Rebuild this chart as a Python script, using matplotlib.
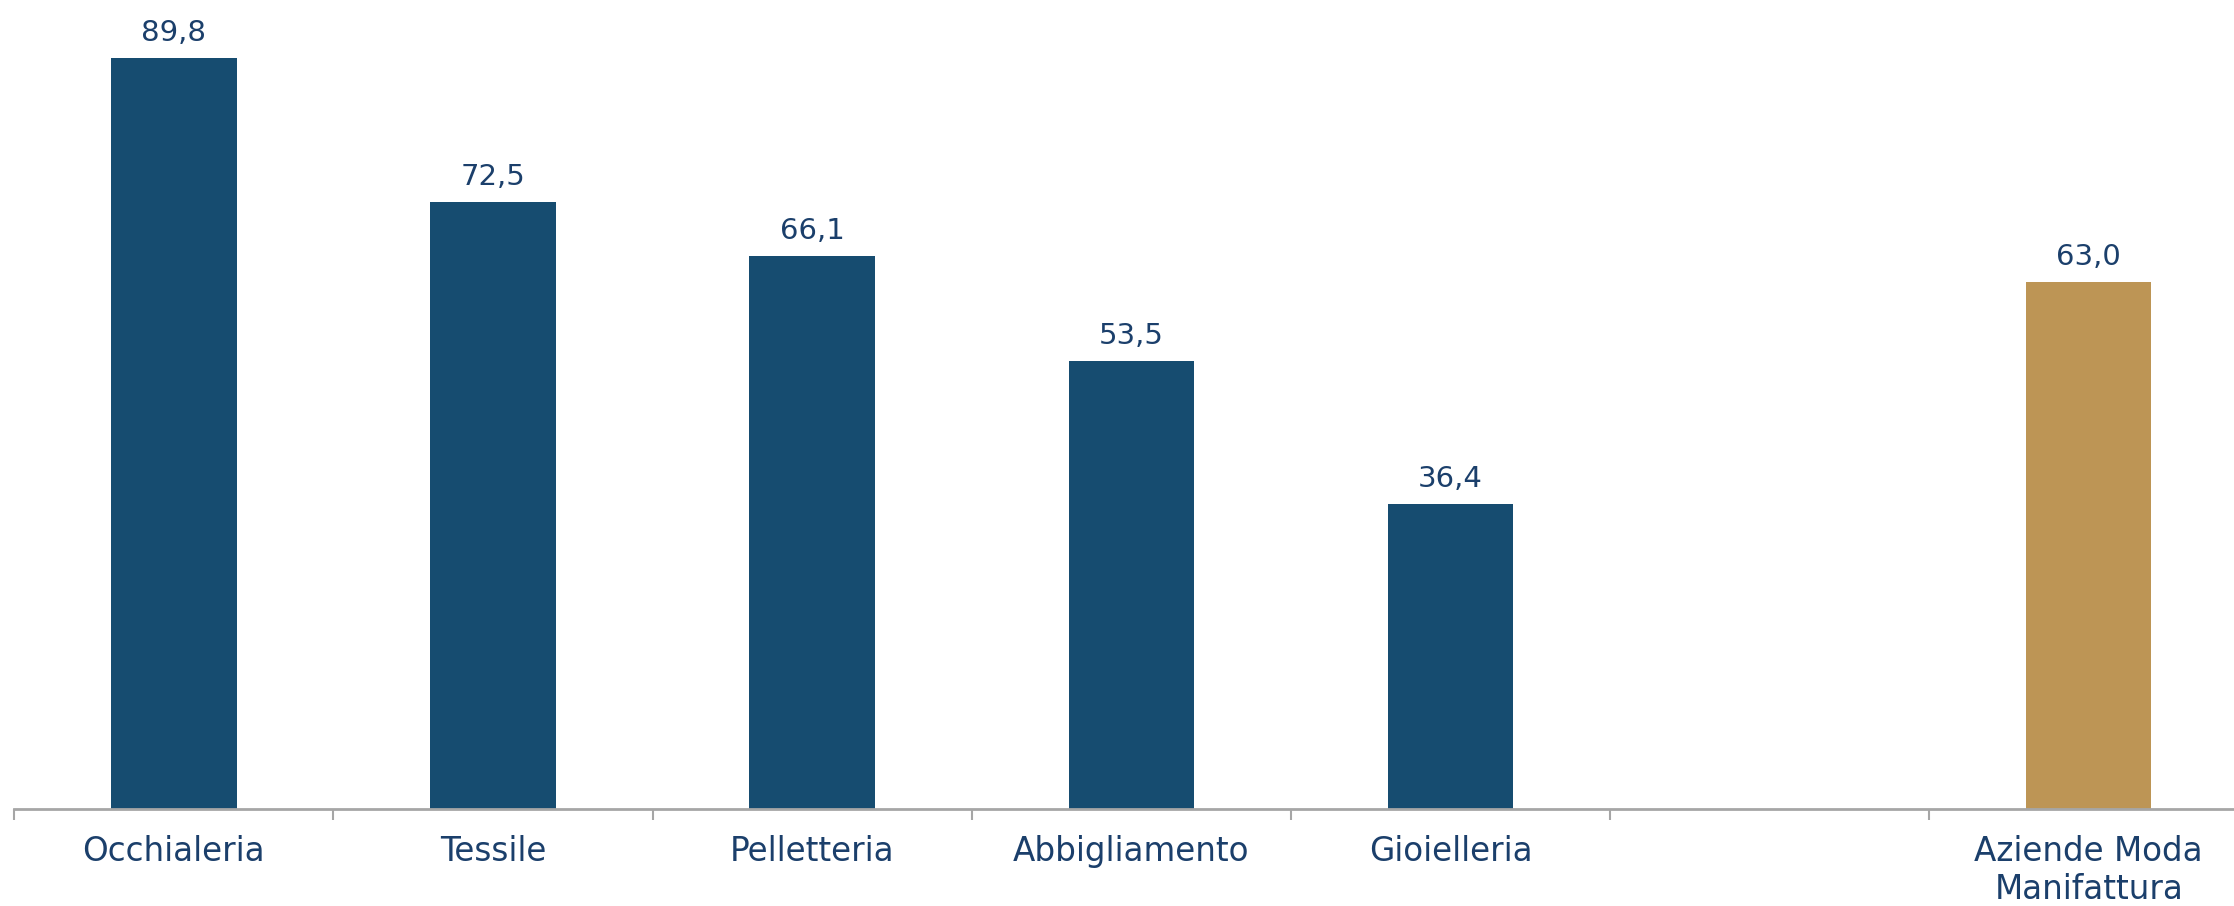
import matplotlib
matplotlib.use("Agg")
import matplotlib.pyplot as plt

categories = ["Occhialeria", "Tessile", "Pelletteria", "Abbigliamento", "Gioielleria", "", "Aziende Moda\nManifattura"]
values = [89.8, 72.5, 66.1, 53.5, 36.4, None, 63.0]
value_labels = ["89,8", "72,5", "66,1", "53,5", "36,4", "", "63,0"]

blue = "#164C70"
gold = "#BD9555"
text_col = "#1B3F6B"
colors = [blue, blue, blue, blue, blue, None, gold]

plt.rcParams['font.family'] = ['DejaVu Sans']

fig = plt.figure(figsize=(22.34, 9.06), dpi=100)
ax = fig.add_axes([0.0064, 0.1071, 1.0, 0.8929])

xs = list(range(len(categories)))
for x, v, c, lab in zip(xs, values, colors, value_labels):
    if v is None:
        continue
    ax.bar(x, v, width=0.393, color=c, zorder=2)
    ax.annotate(lab, (x, v), xytext=(0, 8), textcoords="offset points",
                ha="center", va="bottom", fontsize=21, color=text_col)

ax.set_xlim(-0.5, 6.5)
ax.set_ylim(0, 96.7)

for s in ["top", "right", "left"]:
    ax.spines[s].set_visible(False)
ax.spines["bottom"].set_color("#A6A6A6")
ax.spines["bottom"].set_linewidth(2)
ax.spines["bottom"].set_zorder(3)
ax.set_yticks([])

ax.set_xticks(xs)
ax.set_xticklabels(categories, fontsize=23.5, color=text_col, linespacing=1.2)
ax.tick_params(axis="x", which="major", length=0, pad=18.5)
ax.set_xticks([i - 0.5 for i in range(len(categories) + 1)], minor=True)
ax.tick_params(axis="x", which="minor", length=8, width=1.5, color="#A6A6A6")

fig.savefig("out.png", dpi=100, facecolor="white")
